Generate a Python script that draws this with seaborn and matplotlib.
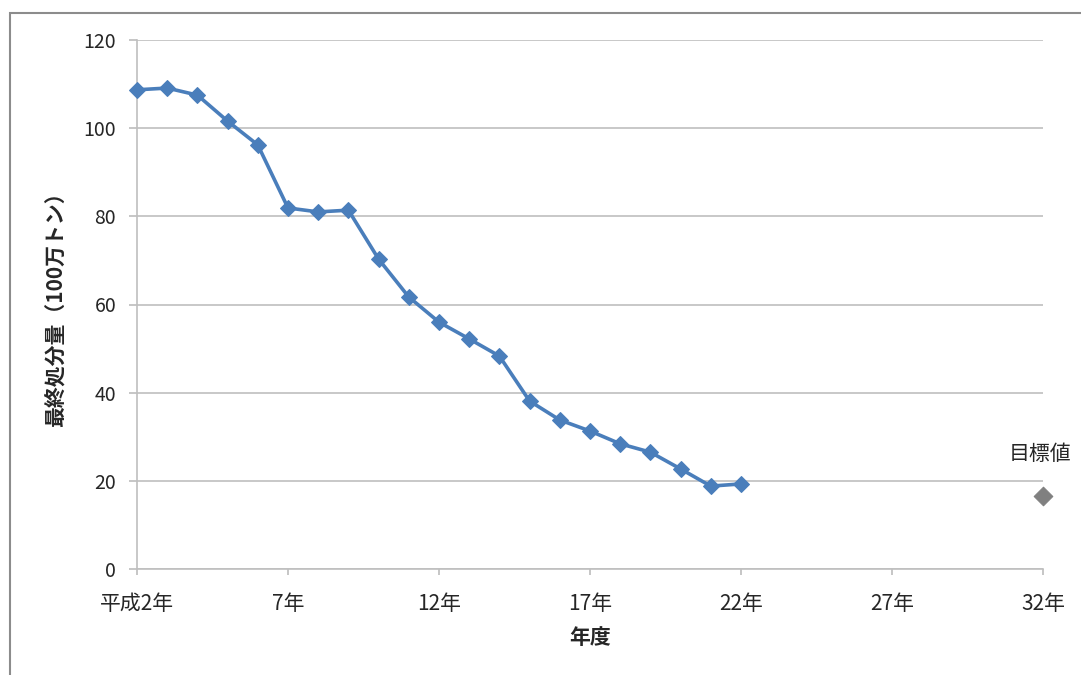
import pandas as pd
import numpy as np
import matplotlib
matplotlib.use("Agg")
import matplotlib.pyplot as plt
import seaborn as sns
from matplotlib.patches import Rectangle

# ---- data ----
years = list(range(2, 23))
amounts = [108.7, 109.1, 107.5, 101.6, 96.2, 81.9, 81.0, 81.4, 70.3, 61.7, 56.0,
           52.2, 48.3, 38.1, 33.8, 31.3, 28.4, 26.5, 22.7, 18.8, 19.3]
target_year = [32]
target_value = [16.6]
tick_years = [2, 7, 12, 17, 22, 27, 32]
tick_labels = ["平成2年", "7年", "12年", "17年", "22年", "27年", "32年"]

df = pd.DataFrame({"year": years, "amount": amounts})
target_df = pd.DataFrame({"year": target_year, "amount": target_value})

sns.set_theme(style="white")
plt.rcParams["font.family"] = ["Noto Sans CJK JP", "DejaVu Sans"]

fig = plt.figure(figsize=(10.81, 6.75), dpi=100)
ax = fig.add_axes([137 / 1081, 1 - 569 / 675, (1043 - 137) / 1081, (569 - 40) / 675])

# outer chart frame
fig.patches.append(Rectangle((10 / 1081, -0.1), 1.2, 1 - 13 / 675 + 0.1,
                             transform=fig.transFigure, fill=False,
                             edgecolor="#8c8c8c", linewidth=1.5))

sns.lineplot(data=df, x="year", y="amount", ax=ax, color="#4a7ebb",
             linewidth=2.6, marker="D", markersize=8.5,
             markeredgecolor="#4a7ebb", zorder=3, clip_on=False)
sns.scatterplot(data=target_df, x="year", y="amount", ax=ax, color="#808080",
                marker="D", s=90, edgecolor="#808080", zorder=3, clip_on=False)
ax.text(target_year[0] - 0.1, target_value[0] + 7, "目標値", ha="center", va="bottom",
        fontsize=15, color="#262626")

ax.set_xlim(2, 32)
ax.set_ylim(0, 120)
ax.set_yticks(range(0, 121, 20))
ax.set_xticks(tick_years)
ax.set_xticklabels(tick_labels)
ax.yaxis.grid(True, color="#bfbfbf", linewidth=1.2)
ax.set_axisbelow(True)

for side in ["top", "right"]:
    ax.spines[side].set_visible(False)
ax.spines["left"].set_color("#bfbfbf")
ax.spines["bottom"].set_color("#bfbfbf")
ax.spines["left"].set_linewidth(1.2)
ax.spines["bottom"].set_linewidth(1.2)
ax.tick_params(axis="y", length=6, color="#bfbfbf", labelsize=14,
               labelcolor="#262626", left=True, pad=9)
ax.tick_params(axis="x", length=4, color="#bfbfbf", labelsize=15,
               labelcolor="#262626", bottom=True, pad=13)

ax.set_xlabel("年度", fontsize=15, fontweight="bold", color="#262626", labelpad=9)
ax.set_ylabel("最終処分量（100万トン）", fontsize=15, fontweight="bold",
              color="#262626", labelpad=13)

fig.savefig("out.png", dpi=100)
